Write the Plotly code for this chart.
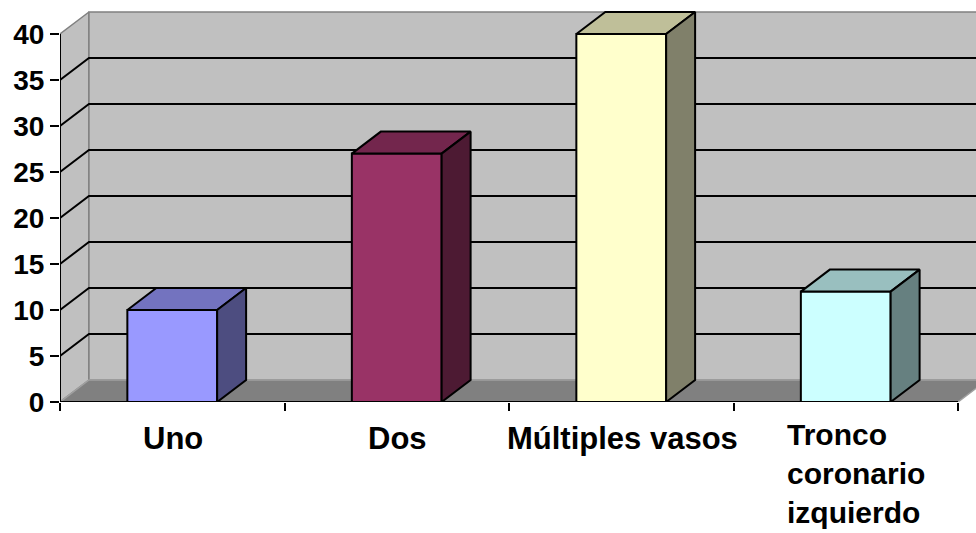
import plotly.graph_objects as go

# Data
categories = ["Uno", "Dos", "Múltiples vasos", "Tronco<br>coronario<br>izquierdo"]
values = [10, 27, 40, 12]
y_ticks = [0, 5, 10, 15, 20, 25, 30, 35, 40]

# Face colours per bar: front, top, side
front_colors = ["#9999ff", "#993366", "#ffffcc", "#ccffff"]
top_colors = ["#7373bf", "#73264d", "#bfbf99", "#99bfbf"]
side_colors = ["#4d4d80", "#4d1a33", "#80806a", "#668080"]

# 3-D look: depth offset in axis units, bar half-width
DX = 0.129
DY = 2.39
HW = 0.2
X0, X1 = -0.5, len(categories) - 0.5
YMAX = 40

fig = go.Figure()


def poly(xs, ys, fill, line_color, width):
    fig.add_trace(go.Scatter(
        x=xs + [xs[0]], y=ys + [ys[0]], mode="lines", fill="toself",
        fillcolor=fill, line=dict(color=line_color, width=width),
        hoverinfo="skip", showlegend=False))


def seg(xs, ys, color, width):
    fig.add_trace(go.Scatter(
        x=xs, y=ys, mode="lines", line=dict(color=color, width=width),
        hoverinfo="skip", showlegend=False))


# walls and floor
poly([X0, X0, X0 + DX, X0 + DX], [0, YMAX, YMAX + DY, DY], "#c0c0c0", "#808080", 1.5)
poly([X0 + DX, X1 + DX, X1 + DX, X0 + DX], [DY, DY, YMAX + DY, YMAX + DY], "#c0c0c0", "#808080", 1.5)
poly([X0, X1, X1 + DX, X0 + DX], [0, 0, DY, DY], "#808080", "#a0a0a0", 1.5)

# gridlines running along the side wall and the back wall
for v in y_ticks[1:-1]:
    seg([X0, X0 + DX, X1 + DX], [v, v + DY, v + DY], "black", 2)

# bars
for i, v in enumerate(values):
    l, r = i - HW, i + HW
    poly([l, r, r, l], [0, 0, v, v], front_colors[i], "black", 2)
    poly([l, r, r + DX, l + DX], [v, v, v + DY, v + DY], top_colors[i], "black", 2)
    poly([r, r + DX, r + DX, r], [0, DY, v + DY, v], side_colors[i], "black", 2)

# axis lines
seg([X0, X0], [0, YMAX], "black", 2)
seg([X0, X1], [0, 0], "black", 2)

# category labels
for i, c in enumerate(categories):
    multi = "<br>" in c
    fig.add_annotation(
        x=i, y=0, xref="x", yref="y", text=c, showarrow=False,
        xanchor="center", yanchor="top", yshift=-14 if multi else -17,
        xshift=10 if multi else 1, align="left",
        font=dict(family="Liberation Sans, Arial", size=30 if multi else 31,
                  color="black", weight="bold"))

fig.update_layout(
    width=976, height=533,
    margin=dict(l=60, r=0, t=0, b=131),
    paper_bgcolor="white", plot_bgcolor="white",
    showlegend=False,
    xaxis=dict(
        range=[X0, X0 + 916 / 224.5], showgrid=False, zeroline=False, showline=False,
        tickvals=[X0 + k for k in range(len(categories) + 1)],
        ticktext=[""] * (len(categories) + 1),
        ticks="outside", ticklen=8, tickwidth=2, tickcolor="black", fixedrange=True),
    yaxis=dict(
        range=[0, 402 / 9.2], showgrid=False, zeroline=False, showline=False,
        tickvals=y_ticks, ticktext=[str(t) for t in y_ticks],
        ticks="outside", ticklen=9, tickwidth=2, tickcolor="black",
        tickfont=dict(family="Liberation Sans, Arial", size=28, color="black", weight="bold"),
        fixedrange=True),
)

fig.write_html("out.html")
